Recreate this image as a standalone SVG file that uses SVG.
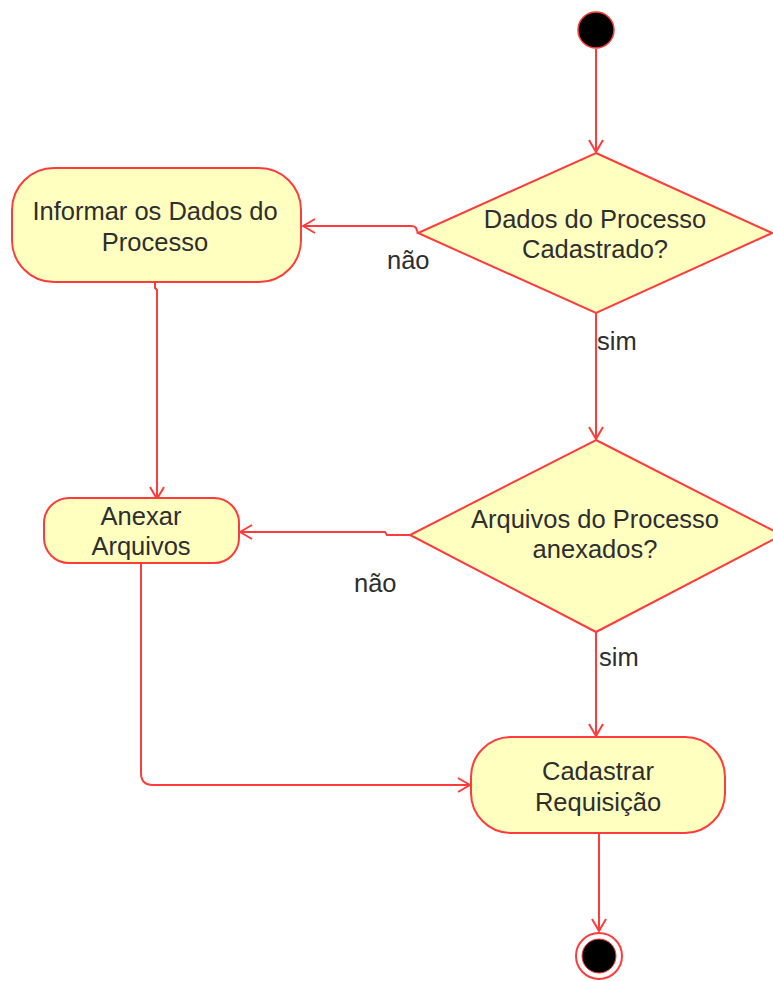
<svg xmlns="http://www.w3.org/2000/svg" width="773" height="981" viewBox="0 0 773 981">
<style>
.node{fill:#ffffc0;stroke:#ff3b3b;stroke-width:2}
.edge{fill:none;stroke:#ff3b3b;stroke-width:2}
text{font-family:"Liberation Sans",Arial,sans-serif;font-size:25.5px;fill:#2e2e2e;text-anchor:middle}
.lbl{text-anchor:start}
</style>
<defs>
<marker id="arr" viewBox="0 0 14 16" refX="13" refY="8" markerWidth="14" markerHeight="16" markerUnits="userSpaceOnUse" orient="auto">
<path d="M1,1 L13,8 L1,15" fill="none" stroke="#ff3b3b" stroke-width="2"/>
</marker>
</defs>
<rect width="773" height="981" fill="#ffffff"/>
<g id="connectors">
<path class="edge" d="M596,49 L596,152" marker-end="url(#arr)"/>
<path class="edge" d="M418,233 L416,228 Q415,226 411,226 L303,226" marker-end="url(#arr)"/>
<path class="edge" d="M596,313 L596,439" marker-end="url(#arr)"/>
<path class="edge" d="M155,282 L155,288 L157,290 L157,499" marker-end="url(#arr)"/>
<path class="edge" d="M410,535 L387,535 L385,532 L240,532" marker-end="url(#arr)"/>
<path class="edge" d="M596,632 L596,736" marker-end="url(#arr)"/>
<path class="edge" d="M141,563 L141,773 Q141,785 153,785 L470,785" marker-end="url(#arr)"/>
<path class="edge" d="M599,834 L599,931" marker-end="url(#arr)"/>
</g>
<g id="start">
<circle cx="596" cy="30" r="18" fill="#000000" stroke="#ff3b3b" stroke-width="1.5"/>
</g>
<g id="decisao1">
<polygon class="node" points="596,153 772,233 596,313 418,233"/>
<text x="595" y="228">Dados do Processo</text>
<text x="595" y="258">Cadastrado?</text>
</g>
<g id="informar">
<rect class="node" x="12" y="168" width="289" height="114" rx="42" ry="42"/>
<text x="155" y="220">Informar os Dados do</text>
<text x="155" y="251">Processo</text>
</g>
<g id="decisao2">
<polygon class="node" points="596,440 782,535 596,632 410,535"/>
<text x="595" y="528">Arquivos do Processo</text>
<text x="595" y="558">anexados?</text>
</g>
<g id="anexar">
<rect class="node" x="44" y="498" width="195" height="65" rx="25" ry="25"/>
<text x="141" y="525">Anexar</text>
<text x="141" y="555">Arquivos</text>
</g>
<g id="cadastrar">
<rect class="node" x="471" y="737" width="254" height="96" rx="40" ry="40"/>
<text x="598" y="780">Cadastrar</text>
<text x="598" y="811">Requisição</text>
</g>
<g id="fim">
<circle cx="599" cy="956" r="23" fill="#ffffff" stroke="#ff3b3b" stroke-width="2"/>
<circle cx="599" cy="956" r="17" fill="#000000" stroke="#ff3b3b" stroke-width="1"/>
</g>
<g id="labels">
<text class="lbl" x="387" y="269">não</text>
<text class="lbl" x="597" y="350">sim</text>
<text class="lbl" x="354" y="592">não</text>
<text class="lbl" x="599" y="666">sim</text>
</g>
</svg>
